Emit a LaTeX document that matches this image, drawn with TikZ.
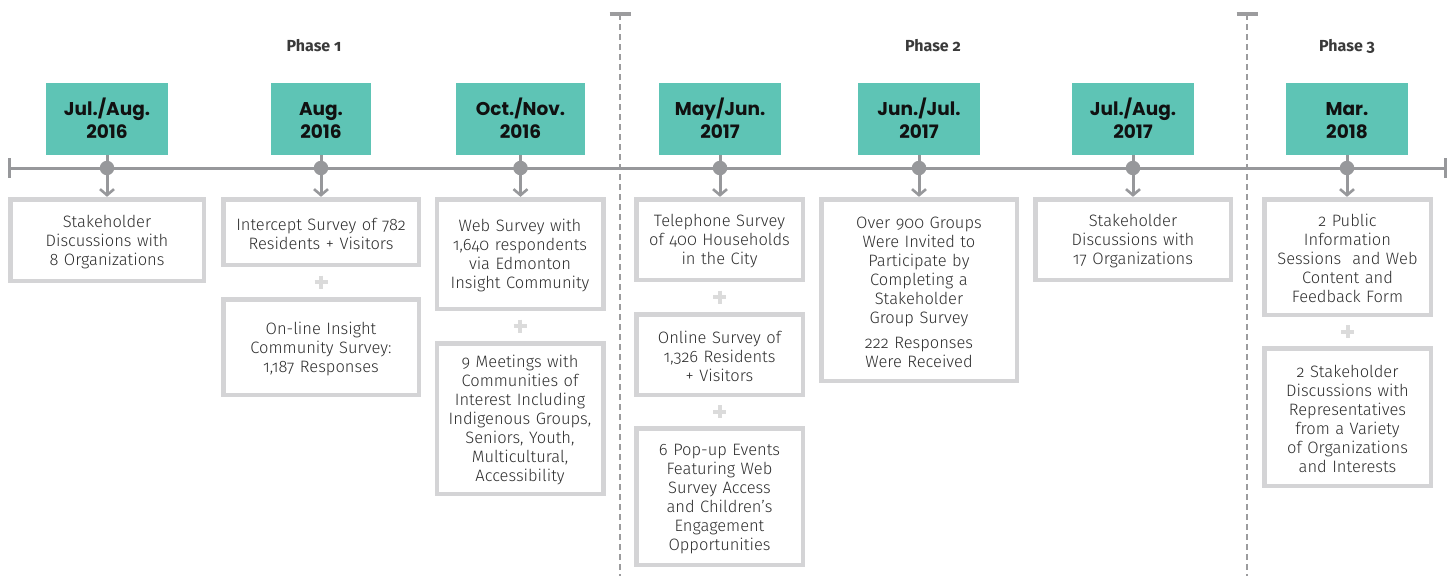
\documentclass[tikz,border=0pt]{standalone}
\usepackage{fontspec}
\setmainfont{Fira Sans Light}[Numbers=OldStyle, BoldFont={Fira Sans Bold}]
\newfontfamily\datefont{Poppins}
\newfontfamily\phasefont{Fira Sans Bold}[Numbers=OldStyle]
\usetikzlibrary{arrows.meta,calc}

\definecolor{tealbox}{HTML}{5EC4B5}
\definecolor{linegray}{HTML}{97989B}
\definecolor{boxgray}{HTML}{D4D4D6}
\definecolor{plusgray}{HTML}{DBDBDB}
\definecolor{dashgray}{HTML}{9C9C9E}
\definecolor{bodytext}{HTML}{2E2E2E}
\definecolor{datetext}{HTML}{111111}
\definecolor{phasetext}{HTML}{3A3A3A}

\begin{document}
\begin{tikzpicture}[x=1pt,y=-1pt,
  every node/.style={inner sep=0pt, outer sep=0pt},
  datebox/.style={fill=tealbox, minimum height=72pt, minimum width=#1pt,
    text width={#1pt-8pt}, align=center, text=datetext,
    font=\datefont\bfseries\fontsize{18.5}{23}\selectfont,
    execute at begin node={\rule{0pt}{18pt}},
    execute at end node={\rule[-3pt]{0pt}{3pt}}},
  cbox/.style 2 args={draw=boxgray, line width=4.5pt, fill=white,
    minimum width={#1pt-4.5pt}, minimum height={#2pt-4.5pt},
    text width={#1pt-22pt}, align=center, text=bodytext,
    font=\fontsize{16.5}{19}\selectfont,
    execute at begin node={\rule{0pt}{16pt}}},
  phase/.style={text=phasetext, font=\phasefont\fontsize{16}{19}\selectfont},
  dot/.style={circle, fill=linegray, minimum size=14.5pt},
  tline/.style={draw=linegray, line width=3pt},
  stem/.style={draw=linegray, line width=3pt},
  stemarrow/.style={stem, -{Straight Barb[length=6pt, width=14pt, line width=2.6pt]}, shorten >=2.4pt},
  divider/.style={draw=dashgray, line width=2.8pt, dash pattern=on 6pt off 4pt},
  dividercap/.style={draw=dashgray, line width=3.5pt},
  plusline/.style={draw=plusgray, line width=4pt},
  plussign/.pic={\draw[plusline] (-6.5,0) -- (6.5,0) (0,-6.5) -- (0,6.5);}
]
\useasboundingbox (0,0) rectangle (1452,576);

% phase dividers
\coordinate (v1top) at (620,14);
\coordinate (v1bot) at (620,576);
\coordinate (v2top) at (1247,14);
\coordinate (v2bot) at (1247,576);
\draw[divider] (v1top) -- (v1bot);
\draw[divider] (v2top) -- (v2bot);
\draw[dividercap] ($(v1top)+(-10.5,0)$) -- ($(v1top)+(10.5,0)$);
\draw[dividercap] ($(v2top)+(-10.5,0)$) -- ($(v2top)+(10.5,0)$);

% phase headings
\node[phase] (ph1) at (314,46) {Phase 1};
\node[phase] (ph2) at (933,46) {Phase 2};
\node[phase] (ph3) at (1347,46) {Phase 3};

% main timeline
\coordinate (tlL) at (9.5,168);
\coordinate (tlR) at (1445,168);
\draw[tline] (tlL) -- (tlR);
\draw[tline] ($(tlL)+(0,-10)$) -- ($(tlL)+(0,10)$);
\draw[tline] ($(tlR)+(0,-10)$) -- ($(tlR)+(0,10)$);

% date boxes
\node[datebox=122] (d1) at (107,119) {Jul./Aug.\\2016};
\node[datebox=100] (d2) at (321,119) {Aug.\\2016};
\node[datebox=129] (d3) at (520.5,119) {Oct./Nov.\\2016};
\node[datebox=122] (d4) at (720,119) {May/Jun.\\2017};
\node[datebox=122] (d5) at (919,119) {Jun./Jul.\\2017};
\node[datebox=122] (d6) at (1133,119) {Jul./Aug.\\2017};
\node[datebox=122] (d7) at (1347,119) {Mar.\\2018};

% activity boxes
\node[cbox={198}{86}] (c1) at (107,240) {Stakeholder\\Discussions with\\8 Organizations};

\node[cbox={200}{70}] (c2a) at (321,232) {Intercept Survey of 782 Residents + Visitors};
\node[cbox={200}{100}] (c2b) at (321,347) {On-line Insight\\Community Survey:\\1,187 Responses};

\node[cbox={171}{114}] (c3a) at (520,254) {Web Survey with\\1,640 respondents\\via Edmonton\\Insight Community};
\node[cbox={171}{155}] (c3b) at (520,418.5) {9 Meetings with\\Communities of\\Interest Including\\Indigenous Groups,\\Seniors, Youth,\\Multicultural,\\Accessibility};

\node[cbox={171}{85}] (c4a) at (719.5,239.5) {Telephone Survey\\of 400 Households\\in the City};
\node[cbox={171}{85}] (c4b) at (719.5,354.5) {Online Survey of\\1,326 Residents\\+ Visitors};
\node[cbox={171}{141}] (c4c) at (719.5,496.5) {6 Pop-up Events\\Featuring Web\\Survey Access\\and Children's\\Engagement\\Opportunities};

\node[cbox={200}{186}] (c5) at (919,290) {Over 900 Groups\\Were Invited to\\Participate by\\Completing a\\Stakeholder\\Group Survey\\[6pt]222 Responses\\Were Received};

\node[cbox={200}{85}] (c6) at (1133,239.5) {Stakeholder\\Discussions with\\17 Organizations};

\node[cbox={171}{120}] (c7a) at (1347.5,257) {2 Public\\Information\\Sessions~ and Web\\Content and\\Feedback Form};
\node[cbox={171}{142}] (c7b) at (1347.5,417) {2 Stakeholder\\Discussions with\\Representatives\\from a Variety\\of Organizations\\and Interests};

% connectors: date -> timeline dot -> first activity
\foreach \i/\c in {1/c1, 2/c2a, 3/c3a, 4/c4a, 5/c5, 6/c6, 7/c7a}{
  \coordinate (k\i) at (d\i.south |- tlL);
  \draw[stem] (d\i.south) -- (k\i);
  \draw[stemarrow] (k\i) -- (k\i |- \c.north);
  \node[dot] (dot\i) at (k\i) {};
}

% plus signs between stacked activities
\pic at ($(c2a.south)!0.5!(c2b.north)$) {plussign};
\pic at ($(c3a.south)!0.5!(c3b.north)$) {plussign};
\pic at ($(c4a.south)!0.5!(c4b.north)$) {plussign};
\pic at ($(c4b.south)!0.5!(c4c.north)$) {plussign};
\pic at ($(c7a.south)!0.5!(c7b.north)$) {plussign};
\end{tikzpicture}
\end{document}
